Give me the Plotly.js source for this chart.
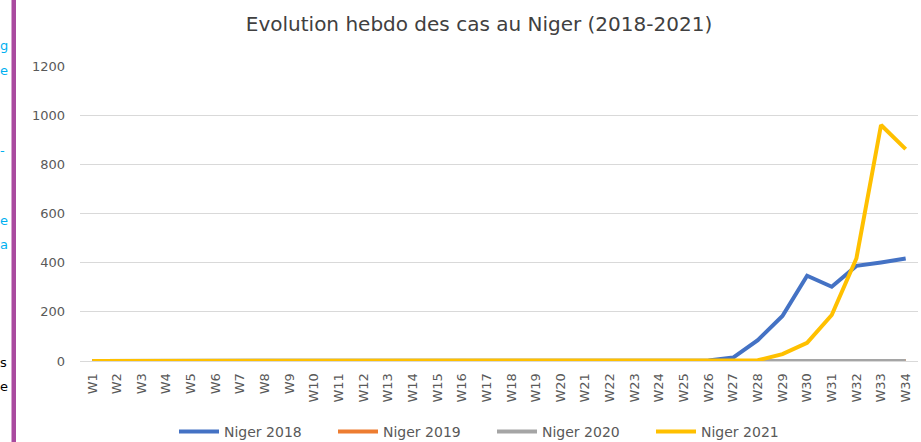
<!DOCTYPE html>
<html>
<head>
<meta charset="utf-8">
<script src="https://cdn.plot.ly/plotly-3.0.1.min.js"></script>
<style>
html,body{margin:0;padding:0;background:#fff;overflow:hidden;}
#chart{width:921px;height:442px;}
</style>
</head>
<body>
<div id="chart"></div>
<script>
const weeks = ["W1","W2","W3","W4","W5","W6","W7","W8","W9","W10","W11","W12","W13","W14","W15","W16","W17","W18","W19","W20","W21","W22","W23","W24","W25","W26","W27","W28","W29","W30","W31","W32","W33","W34"];
const niger2018 = [0,0,0,0,0,0,0,0,0,0,0,0,0,0,0,0,0,0,0,0,0,0,0,0,0,2,14,85,183,347,302,387,401,417];
const niger2019 = [0,0,0,0,0,0,0,0,0,0,0,0,0,0,0,0,0,0,0,0,0,0,0,0,0,0,0,0,0,0,0,0,0,0];
const niger2020 = [0,0,0,0,0,0,0,0,0,0,0,0,0,0,0,0,0,0,0,0,0,0,0,0,0,0,0,0,0,0,0,0,0,0];
const niger2021 = [0,0,0,0,0,0,0,0,0,0,0,0,0,3,0,0,0,0,0,0,0,0,0,1,0,1,2,3,28,74,187,417,960,862];
const seriesNames = ["Niger 2018","Niger 2019","Niger 2020","Niger 2021"];
const seriesColors = ["#4472C4","#ED7D31","#A5A5A5","#FFC000"];
const yTicks = [0,200,400,600,800,1000,1200];

const FONT = "DejaVu Sans, sans-serif";
const allSeries = [niger2018, niger2019, niger2020, niger2021];
const traces = allSeries.map((vals, i) => ({
  type: "scatter", mode: "lines", x: weeks, y: vals, name: seriesNames[i],
  line: {color: seriesColors[i], width: 4, shape: "linear"},
  hoverinfo: "x+y+name"
}));

const L = 80, R = 3, T = 66, B = 81, W = 921, H = 442;
const pw = W - L - R, ph = H - T - B;
const px = v => (v - L) / pw;
const py = v => (H - B - v) / ph;

const frag = (ch, yPix, color) => ({
  xref: "paper", yref: "paper", x: px(-1), y: py(yPix), xanchor: "left", yanchor: "middle",
  text: ch, showarrow: false, borderpad: 0, font: {family: FONT, size: 13, color: color}
});

const layout = {
  width: W, height: H,
  margin: {l: L, r: R, t: T, b: B, pad: 0, autoexpand: false},
  paper_bgcolor: "#ffffff", plot_bgcolor: "#ffffff",
  font: {family: FONT, color: "#595959"},
  title: {text: "Evolution hebdo des cas au Niger (2018-2021)", x: 479 / W, xref: "container", xanchor: "center",
          y: 1 - 24 / H, yref: "container", yanchor: "middle", font: {family: FONT, size: 20, color: "#404040"}},
  xaxis: {type: "category", categoryorder: "array", categoryarray: weeks, range: [-0.5, 33.5],
          tickmode: "array", tickvals: weeks, ticktext: weeks, tickangle: -90,
          tickfont: {family: FONT, size: 13, color: "#595959"}, ticklabelstandoff: 6,
          showgrid: false, showline: true, linecolor: "#D9D9D9", linewidth: 1,
          ticks: "", zeroline: false, fixedrange: true, automargin: false},
  yaxis: {range: [0, 1200], tickmode: "array", tickvals: yTicks, ticktext: yTicks.map(String),
          tickfont: {family: FONT, size: 13, color: "#595959"},
          showgrid: true, gridcolor: "#D9D9D9", gridwidth: 1, zeroline: false,
          showline: false, ticks: "", ticklabelstandoff: 14, fixedrange: true, automargin: false},
  showlegend: true,
  legend: {orientation: "h", x: 492 / W, xanchor: "center", xref: "container",
           y: 10 / H, yref: "container", yanchor: "middle",
           entrywidth: 104, entrywidthmode: "pixels",
           font: {family: FONT, size: 14, color: "#595959"}, itemwidth: 40, traceorder: "normal",
           bgcolor: "rgba(0,0,0,0)"},
  shapes: [
    {type: "rect", xref: "paper", yref: "paper", x0: px(11.5), x1: px(16), y0: py(H), y1: py(0),
     fillcolor: "#A94A9F", line: {width: 0}, layer: "above"}
  ],
  annotations: [
    frag("g", 46, "#00B0F0"),
    frag("e", 70, "#00B0F0"),
    frag("-", 150, "#00B0F0"),
    frag("e", 221, "#00B0F0"),
    frag("a", 244, "#00B0F0"),
    frag("s", 362, "#000000"),
    frag("e", 386, "#000000")
  ]
};

Plotly.newPlot("chart", traces, layout, {displayModeBar: false, staticPlot: true});
</script>
</body>
</html>
